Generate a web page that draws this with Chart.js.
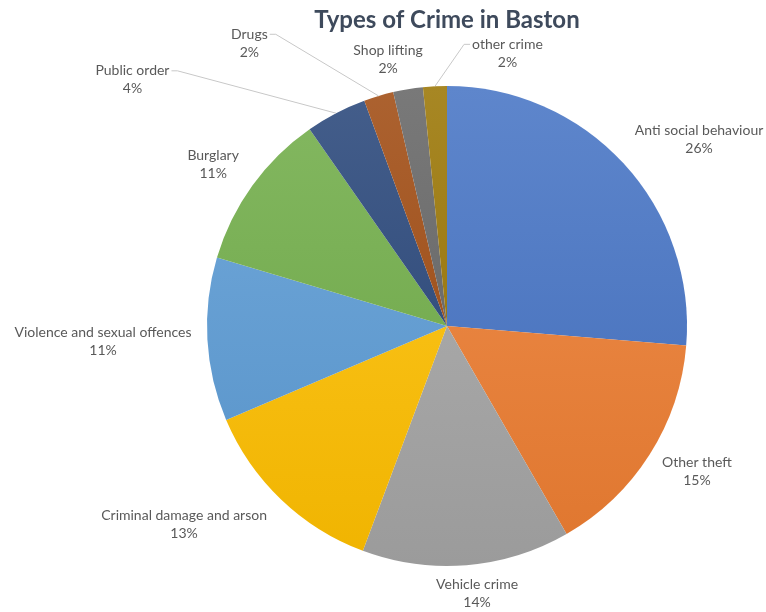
<!DOCTYPE html>
<html>
<head>
<meta charset="utf-8">
<script src="https://cdn.jsdelivr.net/npm/chart.js@4"></script>
<style>
  body { margin: 0; background: #fff; }
  #wrap { width: 766px; height: 612px; position: relative; }
</style>
</head>
<body>
<div id="wrap"><canvas id="crimeChart"></canvas></div>
<script>
// ==================== DATA ====================
const categories = [
  'Anti social behaviour', 'Other theft', 'Vehicle crime', 'Criminal damage and arson',
  'Violence and sexual offences', 'Burglary', 'Public order', 'Drugs', 'Shop lifting', 'other crime'
];
const shares = [26.3, 15.4, 14.0, 12.9, 11.0, 10.7, 4.1, 2.0, 2.0, 1.6];
const sliceColors = [
  '#4472C4', '#ED7D31', '#A5A5A5', '#FFC000', '#5B9BD5',
  '#70AD47', '#264478', '#9E480E', '#636363', '#997300'
];

// label tweaks (px) on top of the outside-end placement, like Excel's best fit
const labelNudge = [
  [18, -2], [6, 0], [6, -4], [-30, 2], [-2, 0],
  [-7, -2], [-180, -5], [-120, -22], [-12, 2], [75, -1]
];

const labelFont = "14px Lato, 'Open Sans', sans-serif";
const labelColor = '#595959';
const leaderColor = '#C8C8C8';

function shade(hex, amt) {
  const n = parseInt(hex.slice(1), 16);
  let r = (n >> 16) & 255, g = (n >> 8) & 255, b = n & 255;
  const f = c => Math.round(amt >= 0 ? c + (255 - c) * amt : c * (1 + amt));
  return `rgb(${f(r)},${f(g)},${f(b)})`;
}

// vertical gradient over the whole pie, lighter at the top
function sliceFill(ctx) {
  const base = sliceColors[ctx.dataIndex];
  const area = ctx.chart.chartArea;
  if (!area) return base;
  const g = ctx.chart.ctx.createLinearGradient(0, area.top, 0, area.bottom);
  g.addColorStop(0, shade(base, 0.14));
  g.addColorStop(1, shade(base, -0.06));
  return g;
}

const total = shares.reduce((a, b) => a + b, 0);

const pieLabels = {
  id: 'pieLabels',
  afterDraw(chart) {
    const ctx = chart.ctx;
    const meta = chart.getDatasetMeta(0);
    ctx.save();
    ctx.font = labelFont;
    ctx.textAlign = 'center';
    ctx.textBaseline = 'middle';
    const lineH = 18;
    meta.data.forEach((arc, i) => {
      const a = (arc.startAngle + arc.endAngle) / 2;
      const ux = Math.cos(a), uy = Math.sin(a);
      const r = arc.outerRadius;
      const line1 = categories[i];
      const line2 = Math.round(shares[i] / total * 100) + '%';
      const w = Math.max(ctx.measureText(line1).width, ctx.measureText(line2).width);
      const h = lineH * 2;
      const px = arc.x + ux * (r + 14), py = arc.y + uy * (r + 14);
      const nx = labelNudge[i][0], ny = labelNudge[i][1];
      const cx = px + ux * w / 2 + nx;
      const cy = py + uy * h / 2 + ny;

      // leader line for labels pushed away from their slice
      if (Math.hypot(nx, ny) > 50) {
        const w1 = ctx.measureText(line1).width;
        const ex = arc.x + ux * r, ey = arc.y + uy * r;
        const side = ex > cx ? 1 : -1;
        const sx = cx + side * (w1 / 2 + 2), sy = cy - lineH / 2;
        ctx.strokeStyle = leaderColor;
        ctx.lineWidth = 1;
        ctx.beginPath();
        ctx.moveTo(sx, sy);
        ctx.lineTo(sx + side * 6, sy);
        ctx.lineTo(ex, ey);
        ctx.stroke();
      }

      ctx.fillStyle = labelColor;
      ctx.fillText(line1, cx, cy - lineH / 2);
      ctx.fillText(line2, cx, cy + lineH / 2);
    });

    // title
    ctx.font = "bold 24px Lato, 'Open Sans', sans-serif";
    ctx.fillStyle = '#3E4A5C';
    ctx.fillText('Types of Crime in Baston', meta.data[0].x, 20);
    ctx.restore();
  }
};

new Chart(document.getElementById('crimeChart').getContext('2d'), {
  type: 'pie',
  data: {
    labels: categories,
    datasets: [{
      data: shares,
      backgroundColor: sliceFill,
      borderWidth: 0
    }]
  },
  options: {
    responsive: true,
    maintainAspectRatio: false,
    animation: false,
    layout: { padding: { top: 86, bottom: 46, left: 207, right: 79 } },
    plugins: {
      legend: { display: false },
      tooltip: { enabled: false },
      title: { display: false }
    }
  },
  plugins: [pieLabels]
});
</script>
</body>
</html>
